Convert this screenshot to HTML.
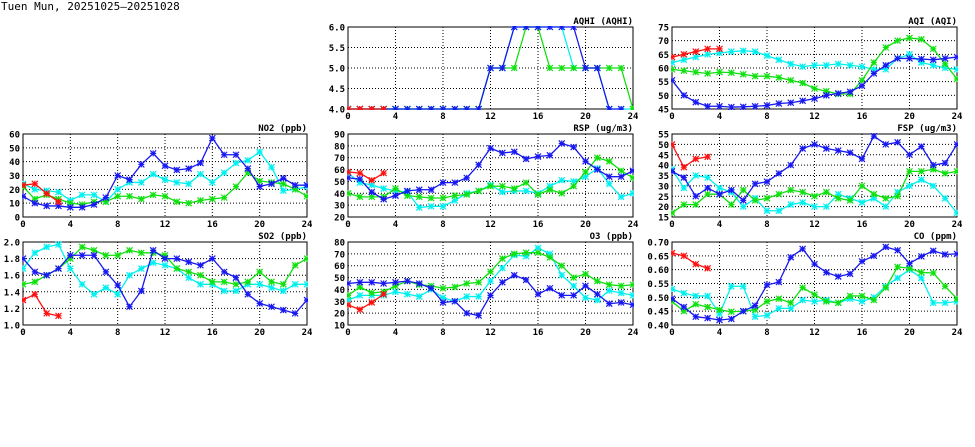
<!DOCTYPE html>
<html><head><meta charset="utf-8"><style>
html,body{margin:0;padding:0;background:#fff;width:975px;height:447px;overflow:hidden}
svg text{font-family:"DejaVu Sans Mono","Liberation Mono",monospace;font-weight:bold;font-size:9px;fill:#000}
</style></head><body>
<svg id="s" width="975" height="447" xmlns="http://www.w3.org/2000/svg">
<text x="1" y="10" style="font-weight:normal;font-size:11px">Tuen Mun, 20251025—20251028</text>
</svg>
<script>
const C={r:"#ff1010",c:"#00f0f0",g:"#10e010",b:"#1818f0"};
const P=[
{x:23,y:134,w:284,h:83,t:"NO2 (ppb)",min:0,max:60,st:10,f:0,d:{
c:[24,20,19,18,12,16,16,11,20,25,25,31,27,25,24,31,25,32,39,41,47,36,19,20,22],
g:[22,13,16,13,10,9,11,11,15,15,13,16,15,11,10,12,13,14,22,32,26,25,24,20,15],
b:[15,10,8,8,7,7,9,14,30,27,38,46,37,34,35,39,57,45,45,35,22,24,28,23,23],
r:[23,24,17,11]}},
{x:348,y:27,w:285,h:82,t:"AQHI (AQHI)",min:4,max:6,st:.5,f:1,d:{
c:[4,4,4,4,4,4,4,4,4,4,4,4,5,5,6,6,6,6,6,5,5,5,4,4,4],
g:[4,4,4,4,4,4,4,4,4,4,4,4,5,5,5,6,6,5,5,5,5,5,5,5,4],
b:[4,4,4,4,4,4,4,4,4,4,4,4,5,5,6,6,6,6,6,6,5,5,4,4],
r:[4,4,4,4]}},
{x:348,y:134,w:285,h:83,t:"RSP (ug/m3)",min:20,max:90,st:10,f:0,d:{
c:[57,49,47,44,42,41,28,29,29,34,40,42,47,41,42,42,40,46,51,50,54,61,48,37,40],
g:[40,37,37,37,44,38,37,36,36,38,39,42,46,46,44,49,39,43,40,46,58,70,67,59,53],
b:[53,52,41,35,38,42,43,43,49,49,53,64,78,74,75,69,71,72,82,79,67,60,54,54,59],
r:[58,57,51,57]}},
{x:672,y:27,w:285,h:82,t:"AQI (AQI)",min:45,max:75,st:5,f:0,d:{
c:[62,63,64,65,65.5,66,66.3,66,64.5,63,61.5,60.5,61,61,61.5,61,60.5,59.5,59.5,63.5,65,62,61,60,59.5],
g:[59.5,59,58.5,58,58.5,58.3,57.7,57,57,56.5,55.5,54.5,52.5,51.5,50.5,50.5,55.5,62,67.5,70,71,70.5,67,61.5,56],
b:[55.5,50,47.5,46,46,45.7,45.8,46,46.3,47,47.3,48,48.8,50,50.7,51.3,53.5,58,61,63.5,63.5,63.3,63,63.5,64],
r:[64,65,66,67,67]}},
{x:672,y:134,w:285,h:83,t:"FSP (ug/m3)",min:15,max:55,st:5,f:0,d:{
c:[38,29,35,34,29,27,20,24,18,18,21,22,20,20,26,24,22,24,20,27,30,33,30,24,17],
g:[17,21,21,26,26,21,28,23,24,26,28,27,25,27,24,23,30,26,24,25,37,37,38,36,37],
b:[37,34,25,29,26,28,23,31,32,36,40,48,50,48,47,46,43,54,50,51,45,49,40,41,50],
r:[50,39,43,44]}},
{x:23,y:242,w:284,h:83,t:"SO2 (ppb)",min:1,max:2,st:.2,f:1,d:{
c:[1.68,1.87,1.94,1.97,1.68,1.49,1.37,1.45,1.37,1.6,1.68,1.75,1.72,1.68,1.57,1.49,1.49,1.41,1.41,1.49,1.49,1.45,1.41,1.49,1.49],
g:[1.49,1.52,1.6,1.68,1.8,1.94,1.9,1.84,1.84,1.9,1.87,1.87,1.84,1.68,1.64,1.6,1.52,1.52,1.49,1.52,1.64,1.52,1.49,1.72,1.8],
b:[1.8,1.64,1.6,1.68,1.84,1.84,1.84,1.64,1.48,1.22,1.41,1.9,1.8,1.8,1.76,1.72,1.8,1.64,1.57,1.37,1.26,1.22,1.18,1.14,1.3],
r:[1.3,1.37,1.14,1.11]}},
{x:348,y:242,w:285,h:83,t:"O3 (ppb)",min:10,max:80,st:10,f:0,d:{
c:[31,35,35,35,38,36,34,40,33,30,34,34,47,58,69,68,75,70,52,43,33,31,39,37,35],
g:[35,42,37,38,43,47,44,43,41,42,45,46,55,66,70,71,71,67,60,50,53,47,44,43,44],
b:[45,46,46,45,46,47,45,41,29,30,20,18,35,46,52,48,36,41,35,35,43,36,28,29,27],
r:[27,23,29,36]}},
{x:672,y:242,w:285,h:83,t:"CO (ppm)",min:.4,max:.7,st:.05,f:2,d:{
c:[.53,.515,.505,.505,.44,.54,.54,.43,.435,.46,.46,.49,.485,.49,.48,.495,.485,.5,.54,.57,.6,.57,.48,.48,.485],
g:[.485,.45,.475,.465,.455,.448,.45,.455,.485,.495,.48,.535,.51,.485,.48,.505,.505,.49,.535,.61,.605,.59,.588,.54,.495],
b:[.495,.465,.43,.425,.418,.422,.45,.47,.545,.555,.645,.675,.62,.59,.575,.585,.63,.65,.682,.67,.622,.648,.668,.655,.657],
r:[.66,.65,.62,.605]}}
];
let o="";
for(const p of P){
 const X=h=>p.x+h*p.w/24, Y=v=>p.y+p.h-(v-p.min)/(p.max-p.min)*p.h;
 const n=Math.round((p.max-p.min)/p.st);
 for(let i=0;i<=n;i++){const v=p.min+i*p.st,y=Y(v);
  if(i>0&&i<n)o+=`<line x1="${p.x}" y1="${y}" x2="${p.x+p.w}" y2="${y}" stroke="#000" stroke-width="1" stroke-dasharray="1,2"/>`;
  o+=`<text x="${p.x-3}" y="${y+3.5}" text-anchor="end">${v.toFixed(p.f)}</text>`;}
 for(let h=0;h<=24;h+=4){const x=X(h);
  if(h>0&&h<24)o+=`<line x1="${x}" y1="${p.y}" x2="${x}" y2="${p.y+p.h}" stroke="#000" stroke-width="1" stroke-dasharray="1,2"/>`;
  o+=`<text x="${x}" y="${p.y+p.h+10}" text-anchor="middle">${h}</text>`;}
 o+=`<rect x="${p.x}" y="${p.y}" width="${p.w}" height="${p.h}" fill="none" stroke="#000" stroke-width="1"/>`;
 o+=`<text x="${p.x+p.w}" y="${p.y-3}" text-anchor="end">${p.t}</text>`;
 o+=`<g clip-path="url(#cl${P.indexOf(p)})">`;
 for(const k of ["c","g","b","r"]){const a=p.d[k];if(!a)continue;
  o+=`<polyline fill="none" stroke="${C[k]}" stroke-width="1.3" points="${a.map((v,h)=>X(h)+","+Y(v)).join(" ")}"/>`;
  for(let h=0;h<a.length;h++){const x=X(h),y=Y(a[h]);
   o+=`<path d="M${x-3} ${y-3}L${x+3} ${y+3}M${x-3} ${y+3}L${x+3} ${y-3}M${x-3} ${y}H${x+3}M${x} ${y-3}V${y+3}" stroke="${C[k]}" stroke-width="1.2"/>`;}
 }
 o+=`</g>`;
}
let d="<defs>"+P.map((p,i)=>`<clipPath id="cl${i}"><rect x="${p.x-1}" y="${p.y-1}" width="${p.w+2}" height="${p.h+2}"/></clipPath>`).join("")+"</defs>";
document.getElementById("s").insertAdjacentHTML("beforeend",d+o);
</script>
</body></html>
